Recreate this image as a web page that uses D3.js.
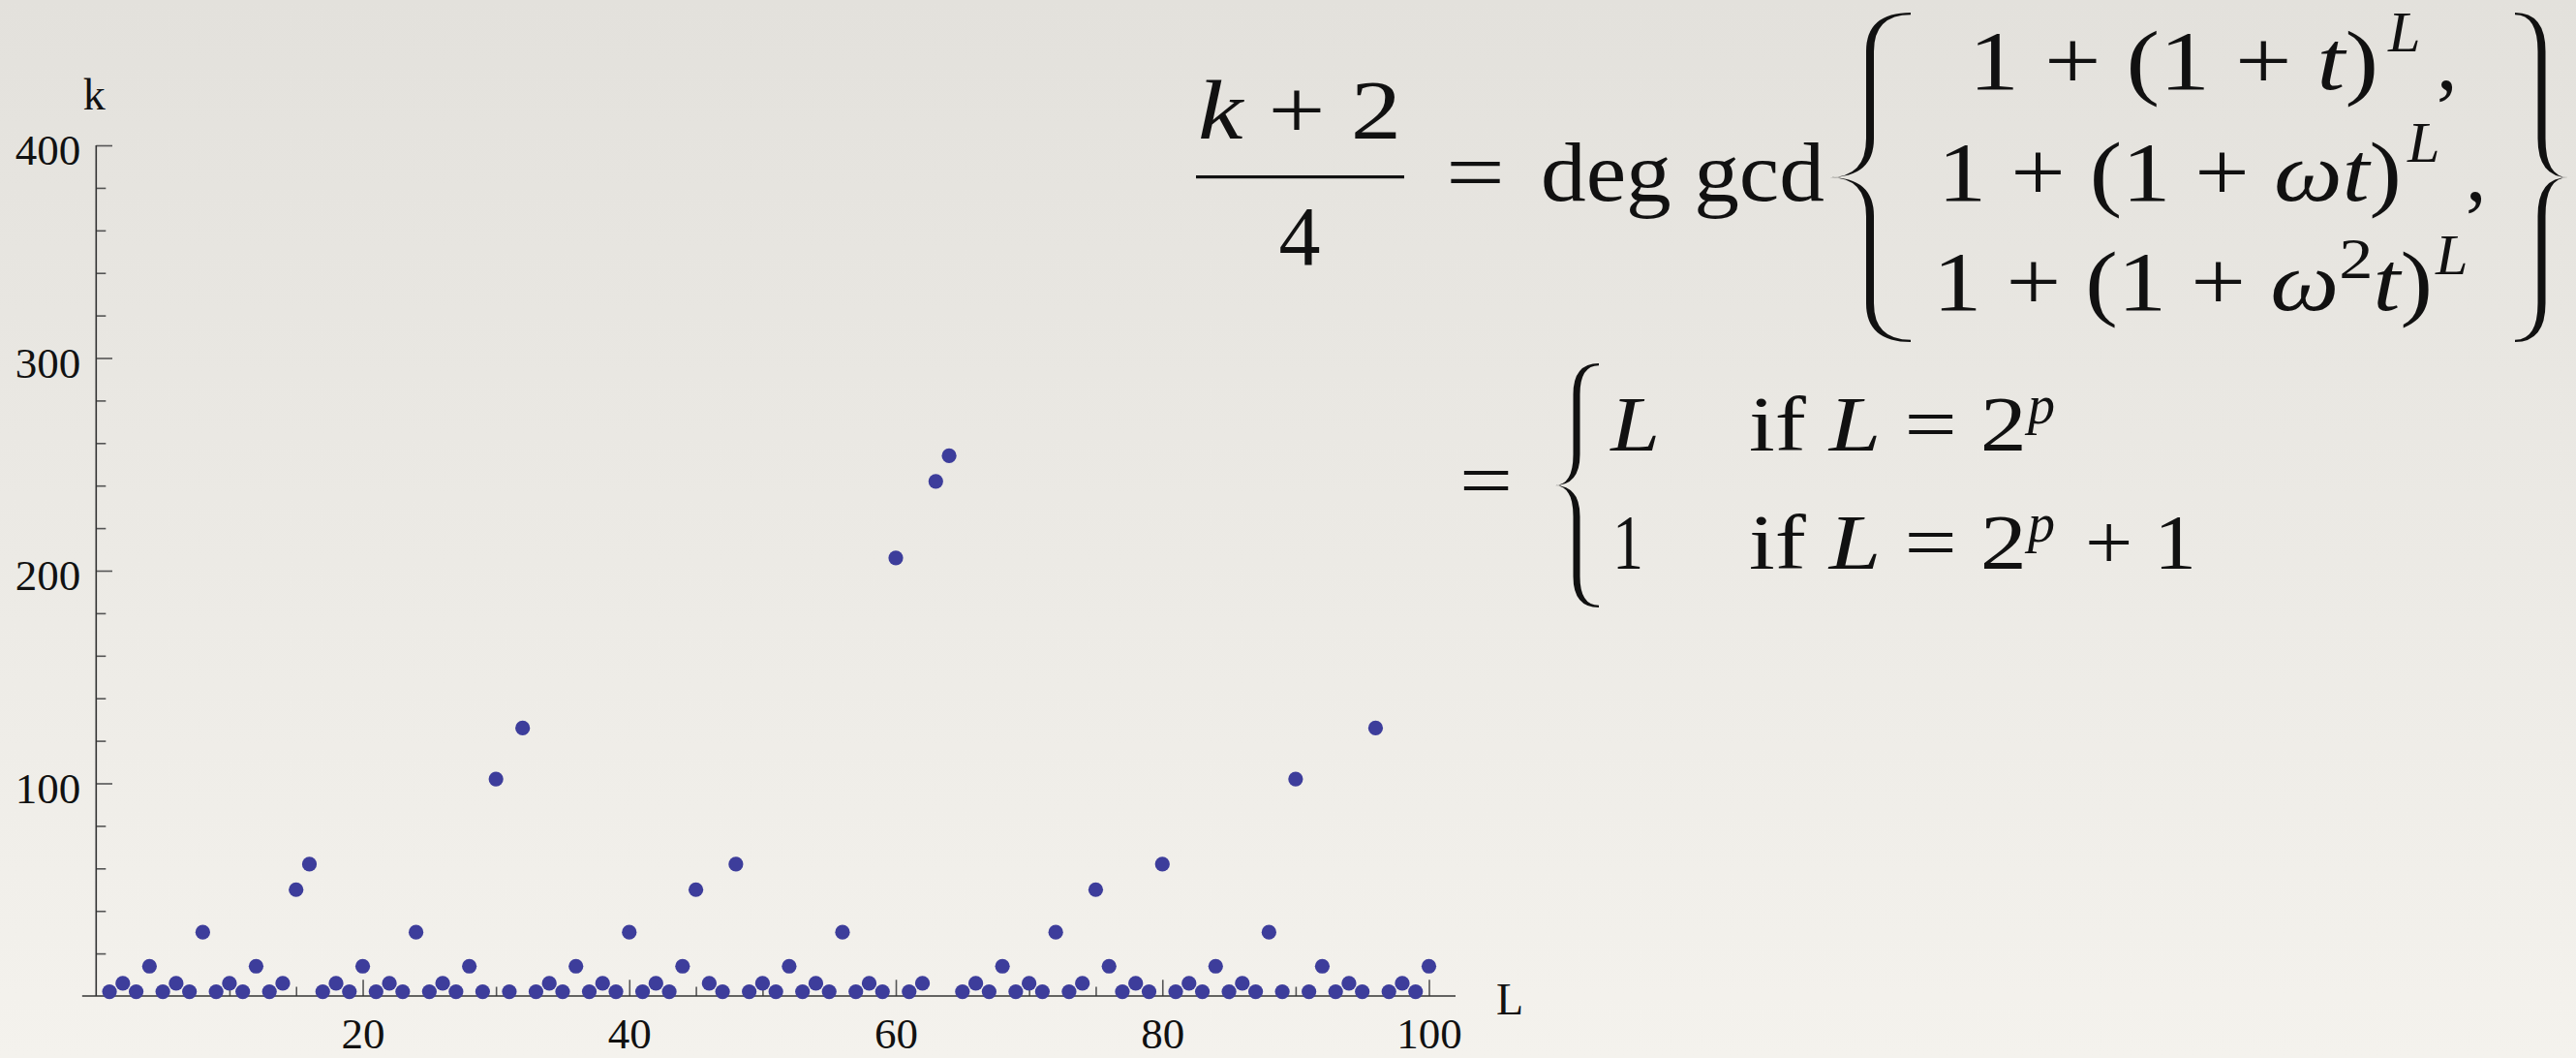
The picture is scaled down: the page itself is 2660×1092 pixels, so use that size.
<!DOCTYPE html>
<html><head><meta charset="utf-8">
<script src="https://cdn.jsdelivr.net/npm/d3@7"></script>
<style>
html,body{margin:0;padding:0;background:#ebe9e4;}
svg{display:block;}
svg text{font-family:"Liberation Serif","DejaVu Serif",serif;}
</style></head><body>
<svg id="chart" width="2660" height="1092"></svg>
<script>
// ---------- data ----------
const lengths = [1,2,3,4,5,6,7,8,9,10,11,12,13,14,15,16,17,18,19,20,
  21,22,23,24,25,26,27,28,29,30,31,32,33,34,35,36,37,38,39,40,
  41,42,43,44,45,46,47,48,49,50,51,52,53,54,55,56,57,58,59,60,
  61,62,63,64,65,66,67,68,69,70,71,72,73,74,75,76,77,78,79,80,
  81,82,83,84,85,86,87,88,89,90,91,92,93,94,95,96,97,98,99,100];
const kValues = [2,6,2,14,2,6,2,30,2,6, 2,14,2,6,50,62,2,6,2,14,
  2,6,2,30,2,6,2,14,2,102, 2,126,2,6,2,14,2,6,2,30,
  2,6,2,14,50,6,2,62,2,6, 2,14,2,6,2,30,2,6,2,206,
  2,6,242,254,2,6,2,14,2,6, 2,30,2,6,50,14,2,6,2,62,
  2,6,2,14,2,6,2,30,2,102, 2,14,2,6,2,126,2,6,2,14];
const xMajorTicks = [20,40,60,80,100];
const xMajorLabels = ["20","40","60","80","100"];
const xMinorTicks = [5,10,15,25,30,35,45,50,55,65,70,75,85,90,95];
const yMajorTicks = [100,200,300,400];
const yMajorLabels = ["100","200","300","400"];
const yMinorTicks = [20,40,60,80,120,140,160,180,220,240,260,280,320,340,360,380];
const xAxisTitle = "L";
const yAxisTitle = "k";

// ---------- setup ----------
const svg = d3.select("#chart");
const W = 2660, H = 1092;
const defs = svg.append("defs");
const grad = defs.append("linearGradient").attr("id","bg").attr("x1",0).attr("y1",0).attr("x2",0).attr("y2",1);
grad.append("stop").attr("offset","0").attr("stop-color","#e3e1dc");
grad.append("stop").attr("offset","1").attr("stop-color","#f4f2ed");
svg.append("rect").attr("width",W).attr("height",H).attr("fill","url(#bg)");

const x = d3.scaleLinear().domain([0,100]).range([99.3,1475.5]);
const y = d3.scaleLinear().domain([0,400]).range([1028,150]);

const serif = "Liberation Serif, DejaVu Serif, serif";
const tickColor = "#555";

// minor ticks
const gx = svg.append("g").attr("transform",`translate(0,${y(0)})`);
gx.call(d3.axisBottom(x).tickValues(xMinorTicks).tickSize(-9.5).tickFormat(""));
const gxM = svg.append("g").attr("transform",`translate(0,${y(0)})`);
gxM.call(d3.axisBottom(x).tickValues(xMajorTicks).tickSize(-16.7).tickPadding(22)
  .tickFormat((d,i)=>xMajorLabels[i]));
const gy = svg.append("g").attr("transform",`translate(${x(0)},0)`);
gy.call(d3.axisLeft(y).tickValues(yMinorTicks).tickSize(-10).tickFormat(""));
const gyM = svg.append("g").attr("transform",`translate(${x(0)},0)`);
gyM.call(d3.axisLeft(y).tickValues(yMajorTicks).tickSize(-16.7).tickPadding(16)
  .tickFormat((d,i)=>yMajorLabels[i]));
svg.selectAll(".domain").remove();
svg.selectAll("g.tick line").attr("stroke",tickColor).attr("stroke-width",1.6);
svg.selectAll("g.tick text").attr("font-family",serif).attr("font-size",45).attr("fill","#111");
gyM.selectAll(".tick text").attr("dy","0.44em");

// axis lines
svg.append("line").attr("x1",x(-1.05)).attr("x2",x(102)).attr("y1",y(0)).attr("y2",y(0))
  .attr("stroke","#333").attr("stroke-width",1.6);
svg.append("line").attr("x1",x(0)).attr("x2",x(0)).attr("y1",y(0)).attr("y2",y(400))
  .attr("stroke","#333").attr("stroke-width",1.6);

// axis titles
svg.append("text").attr("x",x(102)+42).attr("y",y(0)+19).attr("font-family",serif)
  .attr("font-size",46).attr("fill","#111").text(xAxisTitle);
svg.append("text").attr("x",x(0)-2).attr("y",113).attr("text-anchor","middle").attr("font-family",serif)
  .attr("font-size",46).attr("fill","#111").text(yAxisTitle);

// points
svg.append("g").selectAll("circle").data(lengths).join("circle")
  .attr("cx",(d)=>x(d)).attr("cy",(d,i)=>y(kValues[i])).attr("r",7.6)
  .attr("fill","#3d3d9b");

// ---------- formula ----------
const F1 = 86, F2 = 80;
const ink = "#111";
const fm = svg.append("g").attr("fill",ink).attr("font-family",serif);

function fitText(parts, x0, x1, baseline, size){
  const t = fm.append("text").attr("x",0).attr("y",baseline).attr("font-size",size).attr("font-family",serif);
  parts.forEach(p=>{
    const ts = t.append("tspan").text(p.t);
    if(p.i) ts.attr("font-style","italic");
    if(p.s) ts.attr("font-size",p.s);
    if(p.dy) ts.attr("dy",p.dy);
  });
  const b = t.node().getBBox();
  const sx = (x1-x0)/b.width;
  t.attr("transform",`translate(${x0-b.x*sx},0) scale(${sx},1)`);
  return t;
}
function put(str, xx, baseline, size, italic, anchor){
  const t = fm.append("text").attr("x",xx).attr("y",baseline).attr("font-size",size)
    .attr("font-family",serif).text(str);
  if(italic) t.attr("font-style","italic");
  if(anchor) t.attr("text-anchor",anchor);
  return t;
}
function bracePath(xl,xr,yt,yb,w,v,t){
  const xs=(xl+xr)/2, a=xs-w/2, c=xs+w/2, ym=(yt+yb)/2;
  return `M${xr},${yt} Q${a},${yt} ${a},${yt+v} L${a},${ym-v} Q${a},${ym} ${xl},${ym}`+
    ` Q${a},${ym} ${a},${ym+v} L${a},${yb-v} Q${a},${yb} ${xr},${yb}`+
    ` L${xr},${yb-t} Q${c},${yb-t} ${c},${yb-v} L${c},${ym+v} Q${c},${ym} ${xl},${ym}`+
    ` Q${c},${ym} ${c},${ym-v} L${c},${yt+v} Q${c},${yt+t} ${xr},${yt+t} Z`;
}
function brace(xl,xr,yt,yb,w,v,mirror){
  const p = fm.append("path").attr("d",bracePath(xl,xr,yt,yb,w,v,2.2)).attr("fill",ink);
  if(mirror) p.attr("transform",`translate(${xl+xr},0) scale(-1,1)`);
}

// fraction (k+2)/4
fitText([{t:"k",i:true},{t:" + 2"}],1237,1447,143,F1);
fm.append("rect").attr("x",1235).attr("y",181).attr("width",215).attr("height",3.2);
put("4",1342,273,F1,false,"middle");
fitText([{t:"="}],1493,1554,207,F1);
fitText([{t:"deg gcd"}],1591,1884,207,F1);
brace(1889,1973,13,353,8,40,false);
brace(2597,2652,13,353,8,40,true);
// rows
fitText([{t:"1 + (1 + "},{t:"t",i:true},{t:")"}],2033,2456,92,F1);
put("L",2466,53,F1*0.7,true);
put(",",2516,92,F1);
fitText([{t:"1 + (1 + "},{t:"ωt",i:true},{t:")"}],2001,2480,207,F1);
put("L",2486,167,F1*0.7,true);
put(",",2546,207,F1);
fitText([{t:"1 + (1 + "},{t:"ω",i:true},{t:"2",s:F1*0.7,dy:-F1*0.38},{t:"t",i:true,dy:F1*0.38},{t:")"}],1996,2512,320,F1);
put("L",2515,283,F1*0.7,true);

// second part
fitText([{t:"="}],1507,1562,523,F2);
brace(1605,1651,375,627,7,32,false);
fitText([{t:"L",i:true}],1662,1714,465,F2);
fitText([{t:"if "},{t:"L",i:true},{t:" = 2"}],1806,2093,465,F2);
put("p",2094,437,F2*0.7,true);
fitText([{t:"1"}],1665,1697,587,F2);
fitText([{t:"if "},{t:"L",i:true},{t:" = 2"}],1806,2093,587,F2);
put("p",2094,559,F2*0.7,true);
fitText([{t:"+ 1"}],2153,2268,587,F2);
</script>
</body></html>
